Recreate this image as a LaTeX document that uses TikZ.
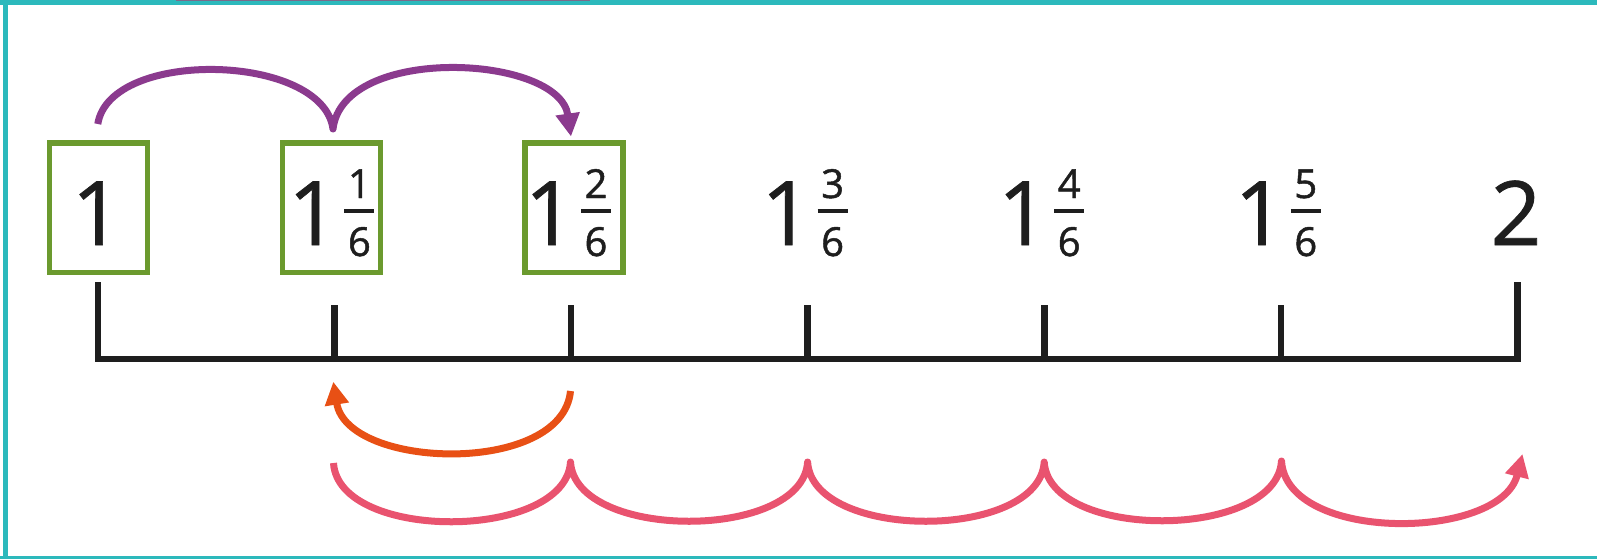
\documentclass[tikz,border=0pt]{standalone}
\usepackage{fontspec}
\setmainfont{Open Sans}
\usetikzlibrary{arrows.meta}
\definecolor{frameteal}{HTML}{2CB9BC}
\definecolor{jumppurple}{HTML}{8B3A8E}
\definecolor{boxgreen}{HTML}{6B9A2E}
\definecolor{backorange}{HTML}{E85015}
\definecolor{jumppink}{HTML}{E9536F}
\definecolor{inkblack}{HTML}{1E1E1E}
\definecolor{topbar}{HTML}{7B6A8A}
\tikzset{
  bigdigit/.style={font=\fontsize{44.5}{44.5}\selectfont\addfontfeatures{FakeBold=0.8}, inner sep=0pt, text=inkblack, anchor=base},
  fracdigit/.style={font=\fontsize{20}{20}\selectfont\addfontfeatures{FakeBold=1.2}, inner sep=0pt, text=inkblack, anchor=base},
  fracbar/.style={draw=inkblack, line width=2pt},
  axisline/.style={draw=inkblack, line width=3.3pt, line join=miter},
  greenbox/.style={draw=boxgreen, line width=2.6pt, minimum width=49pt, minimum height=64.75pt, inner sep=0pt},
  jumparc/.style={line width=3.5pt, line join=round, -{Triangle[length=11.5pt,width=11.5pt]}}
}
\begin{document}
\begin{tikzpicture}[x=0.5pt,y=-0.5pt]
\useasboundingbox (0,0) rectangle (1597,559);
\fill[white] (0,0) rectangle (1597,559);
% frame
\fill[frameteal] (0,0) rectangle (1597,4.7);
\fill[frameteal] (2.7,0) rectangle (8.3,559);
\fill[frameteal] (0,556.3) rectangle (1597,559);
\fill[topbar] (176,0) rectangle (590,1.3);
% boxes
\node[greenbox] (box0) at (98.5,207.75) {};
\node[greenbox] (box1) at (331.5,207.75) {};
\node[greenbox] (box2) at (574,207.75) {};
% number line
\draw[axisline] (97.8,282) -- (97.8,359) -- (1517.4,359) -- (1517.4,282);
\foreach \k in {1,...,5}{
  \pgfmathsetmacro\T{97.8+236.6*\k}
  \draw[axisline] (\T,305) -- (\T,359);
}
% labels
\node[bigdigit] (big0) at (97,245) {1};
\foreach \k in {1,...,5}{
  \pgfmathsetmacro\T{97.8+236.6*\k}
  \node[bigdigit] (big\k) at ({\T-21},245) {1};
  \node[fracdigit] (num\k) at ({\T+25},198) {\k};
  \node[fracdigit] (den\k) at ({\T+25},256) {6};
  \draw[fracbar] ({\T+10},211) -- ({\T+40},211);
}
\node[bigdigit] (big6) at (1516,245) {2};
% purple jumps
\coordinate (p0) at (97.8,124);
\coordinate (p1) at (333,129);
\coordinate (p2) at (571,136.5);
\draw[jumparc, draw=jumppurple, -{Triangle[length=11.5pt,width=11.5pt,fill=jumppurple]}]
  (p0) .. controls +(12,-76) and +(-10,-76) .. (p1)
       .. controls +(10,-85) and +(-12,-82) .. (p2);
% orange jump back
\coordinate (o0) at (570.5,391);
\coordinate (o1) at (333.3,381.7);
\draw[jumparc, draw=backorange] (o0) .. controls +(-8,85) and +(14,88) .. (o1);
% pink jumps
\coordinate (q1) at (333.5,463);
\coordinate (q2) at (570.5,462);
\coordinate (q3) at (807.6,462);
\coordinate (q4) at (1044.2,462);
\coordinate (q5) at (1281.5,461);
\coordinate (q6) at (1522.5,454);
\draw[jumparc, draw=jumppink]
  (q1) .. controls +(5,79) and +(-5,79) .. (q2)
       .. controls +(5,79) and +(-5,79) .. (q3)
       .. controls +(5,79) and +(-5,79) .. (q4)
       .. controls +(5,79) and +(-5,79) .. (q5)
       .. controls +(5,82) and +(-22,87) .. (q6);
\end{tikzpicture}
\end{document}
